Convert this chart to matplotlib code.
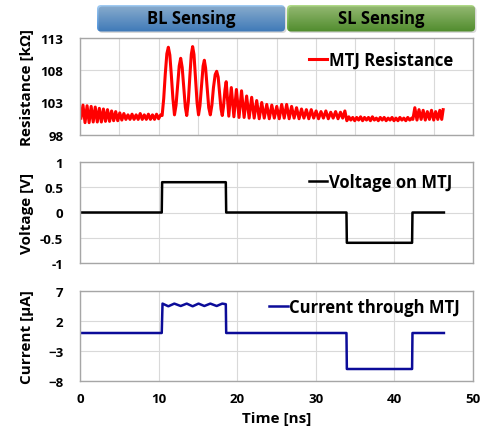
import numpy as np
import matplotlib
matplotlib.use("Agg")
import matplotlib.pyplot as plt
from matplotlib.patches import FancyBboxPatch
from matplotlib.colors import LinearSegmentedColormap

plt.rcParams["font.family"] = ["Open Sans", "DejaVu Sans"]
plt.rcParams["font.weight"] = "bold"
plt.rcParams["axes.labelweight"] = "bold"

# ---------------------------------------------------------------- data
# MTJ resistance [kOhm] : extrema of the ringing, per stretch of the waveform
RES_T_PRE = [0.12, 0.38, 0.64, 0.90, 1.16, 1.42, 1.68, 1.94, 2.20, 2.46, 2.72, 2.98, 3.24, 3.50,
             3.76, 4.02, 4.28, 4.54, 4.80, 5.06, 5.32, 5.58, 5.84, 6.10, 6.36, 6.62, 6.88, 7.14,
             7.40, 7.66, 7.92, 8.18, 8.44, 8.70, 8.96, 9.22, 9.48, 9.74, 10.00, 10.26]
RES_V_PRE = [100.6, 102.6, 99.9, 102.5, 99.9, 102.4, 100.0, 102.3, 100.0, 102.1, 100.0, 102.0,
             100.1, 101.9, 100.1, 101.7, 100.2, 101.6, 100.2, 101.4, 100.3, 101.3, 100.4, 101.1,
             100.4, 101.2, 100.4, 101.1, 100.4, 101.3, 100.4, 101.1, 100.4, 101.2, 100.4, 101.1,
             100.4, 101.2, 100.5, 101.1]

RES_T_BL = [10.45, 10.65, 10.85, 11.05, 11.24, 11.43, 11.62, 11.82, 12.02, 12.22, 12.42, 12.62,
            12.81, 13.00, 13.20, 13.40, 13.58, 13.78, 13.98, 14.16, 14.33, 14.50, 14.70, 14.90,
            15.08, 15.26, 15.46, 15.66, 15.82, 15.98, 16.18, 16.38, 16.58, 16.78, 16.98, 17.20,
            17.39, 17.58, 17.76, 17.94, 18.10, 18.26, 18.44, 18.60]
RES_V_BL = [101.0, 103.6, 107.4, 110.5, 111.5, 110.3, 107.2, 103.6, 101.1, 102.6, 105.7, 108.6,
            109.8, 108.4, 105.3, 102.3, 101.0, 103.1, 107.1, 110.4, 111.6, 110.4, 106.7, 102.9,
            101.1, 102.5, 105.6, 108.6, 109.5, 108.3, 105.2, 102.2, 101.1, 102.6, 105.3, 107.3,
            107.8, 106.9, 104.4, 102.0, 101.0, 102.4, 104.9, 106.2]

RES_T_DECAY = [18.93, 19.25, 19.58, 19.90, 20.23, 20.55, 20.88, 21.20, 21.52, 21.84, 22.16, 22.48,
               22.80, 23.12, 23.44, 23.76, 24.08, 24.40, 24.72, 25.03, 25.35, 25.66, 25.98, 26.29,
               26.61, 26.92, 27.24, 27.55, 27.87, 28.18, 28.49, 28.80, 29.11, 29.42, 29.73, 30.04,
               30.35, 30.66, 30.97, 31.28, 31.59, 31.90, 32.21, 32.52, 32.83, 33.14, 33.42, 33.70]
RES_V_DECAY = [100.9, 105.3, 100.8, 105.0, 100.7, 104.8, 100.7, 104.0, 100.6, 103.8, 100.6, 103.3,
               100.5, 103.0, 100.6, 102.7, 100.5, 102.6, 100.6, 102.4, 100.5, 102.7, 100.6, 102.7,
               100.5, 102.4, 100.6, 102.2, 100.5, 102.0, 100.6, 101.9, 100.5, 101.9, 100.6, 101.7,
               100.5, 101.6, 100.6, 101.7, 100.5, 101.5, 100.6, 101.6, 100.5, 101.5, 100.6, 101.7]

RES_T_SL = [33.95, 34.20, 34.45, 34.70, 34.95, 35.20, 35.45, 35.70, 35.95, 36.20, 36.45, 36.70,
            36.95, 37.20, 37.45, 37.70, 37.95, 38.20, 38.45, 38.70, 38.95, 39.20, 39.45, 39.70,
            39.95, 40.20, 40.45, 40.70, 40.95, 41.20, 41.45, 41.70, 41.95, 42.20]
RES_V_SL = [100.2, 100.8, 100.3, 100.7, 100.2, 100.7, 100.3, 100.8, 100.2, 100.7, 100.3, 100.7,
            100.2, 100.8, 100.3, 100.6, 100.2, 100.7, 100.3, 100.7, 100.2, 100.6, 100.3, 100.7,
            100.2, 100.6, 100.2, 100.7, 100.3, 100.6, 100.2, 100.7, 100.3, 100.6]

RES_T_POST = [42.35, 42.60, 42.87, 43.13, 43.40, 43.66, 43.93, 44.19, 44.46, 44.72, 45.00, 45.25,
              45.52, 45.78, 46.02, 46.20]
RES_V_POST = [100.4, 102.2, 100.3, 101.9, 100.4, 101.8, 100.3, 101.6, 100.4, 101.8, 100.3, 101.6,
              100.4, 101.8, 100.4, 101.9]

# voltage on MTJ [V]
V_T = [0, 10.4, 10.45, 18.55, 18.6, 33.9, 33.95, 42.25, 42.3, 46.3]
V_V = [0, 0, 0.6, 0.6, 0, 0, -0.6, -0.6, 0, 0]

# current through MTJ [uA]
I_T = [0, 10.4, 10.5, 11.24, 12.0, 12.81, 13.58, 14.33, 15.08, 15.82, 16.58, 17.39, 18.1,
       18.55, 18.6, 33.9, 33.95, 42.25, 42.3, 46.3]
I_V = [0, 0, 4.9, 4.45, 4.9, 4.5, 4.9, 4.45, 4.9, 4.5, 4.9, 4.5, 4.9, 4.8, 0, 0, -6.0, -6.0, 0, 0]

R_TICKS = [98, 103, 108, 113]
V_TICKS = [-1, -0.5, 0, 0.5, 1]
V_TICKLABELS = ["-1", "-0.5", "0", "0.5", "1"]
I_TICKS = [-8, -3, 2, 7]
T_TICKS = [0, 10, 20, 30, 40, 50]
BANNERS = ["BL Sensing", "SL Sensing"]

# ---------------------------------------------------------------- figure
W, H, DPI = 485, 431, 100
fig = plt.figure(figsize=(W / DPI, H / DPI), dpi=DPI)


def px_axes(left, top, right, bottom):
    return fig.add_axes([left / W, 1 - bottom / H, (right - left) / W, (bottom - top) / H])


def style(ax, yticks, grid_step, xlabels):
    ax.set_xlim(0, 50)
    ax.set_ylim(yticks[0], yticks[-1])
    ax.set_yticks(yticks)
    ax.set_xticks(np.arange(0, 50.1, grid_step))
    ax.grid(True, color="#d9d9d9", lw=0.8)
    ax.set_axisbelow(True)
    ax.tick_params(length=0, labelsize=9.5)
    ax.tick_params(axis="y", pad=12)
    ax.tick_params(axis="x", pad=8)
    for s in ax.spines.values():
        s.set_color("#a6a6a6")
        s.set_linewidth(1.0)
    if not xlabels:
        ax.set_xticklabels([])
    ax.yaxis.set_label_coords(-0.118, 0.5)


ax_r = px_axes(80, 38.5, 473, 136)
ax_v = px_axes(80, 163, 473, 264)
ax_i = px_axes(80, 292, 473, 382)

res_t = RES_T_PRE + RES_T_BL + RES_T_DECAY + RES_T_SL + RES_T_POST
res_v = RES_V_PRE + RES_V_BL + RES_V_DECAY + RES_V_SL + RES_V_POST
ax_r.plot(res_t, res_v, color="#ff0000", lw=2.2, label="MTJ Resistance")
style(ax_r, R_TICKS, 5, False)
ax_r.set_ylabel("Resistance [kΩ]", fontsize=11)

ax_v.plot(V_T, V_V, color="black", lw=1.8, label="Voltage on MTJ")
style(ax_v, V_TICKS, 10, False)
ax_v.set_yticklabels(V_TICKLABELS)
ax_v.set_ylabel("Voltage [V]", fontsize=11)

ax_i.plot(I_T, I_V, color="#0c0c99", lw=1.8, label="Current through MTJ")
style(ax_i, I_TICKS, 10, True)
ax_i.set_ylabel("Current [μA]", fontsize=11)
ax_i.set_xlabel("Time [ns]", fontsize=11)
ax_i.xaxis.set_label_coords(0.5, -0.335)

for ax, anchor in ((ax_r, (0.949, 0.77)), (ax_v, (0.946, 0.80)), (ax_i, (0.967, 0.82))):
    ax.legend(loc="center right", bbox_to_anchor=anchor, frameon=False, fontsize=12,
              handlelength=1.1, handletextpad=0.1, borderpad=0, borderaxespad=0)

# ---------------------------------------------------------------- banners
ax_b = fig.add_axes([0, 0, 1, 1])
boxes = [(97, 285, "#a2cbf2", "#4a8fd8"), (287, 475, "#b0da88", "#5ea535")]
for (x0, x1, c_top, c_bot), label in zip(boxes, BANNERS):
    shadow = FancyBboxPatch((x0 + 1.5, 7.5), x1 - x0, 26.5, boxstyle="round,pad=0,rounding_size=4",
                            fc="#000000", ec="none", alpha=0.15)
    ax_b.add_patch(shadow)
    box = FancyBboxPatch((x0, 6), x1 - x0, 26.5, boxstyle="round,pad=0,rounding_size=4",
                         fc="none", ec="none")
    ax_b.add_patch(box)
    cmap = LinearSegmentedColormap.from_list(label, [c_top, c_bot])
    im = ax_b.imshow(np.linspace(0, 1, 64).reshape(-1, 1), cmap=cmap, extent=(x0, x1, 32.5, 6),
                     aspect="auto")
    im.set_clip_path(box)
    ax_b.text((x0 + x1) / 2, 19.5, label, ha="center", va="center", fontsize=12, weight="bold")
ax_b.set_xlim(0, W)
ax_b.set_ylim(H, 0)
ax_b.axis("off")

fig.savefig("out.png", dpi=DPI)
